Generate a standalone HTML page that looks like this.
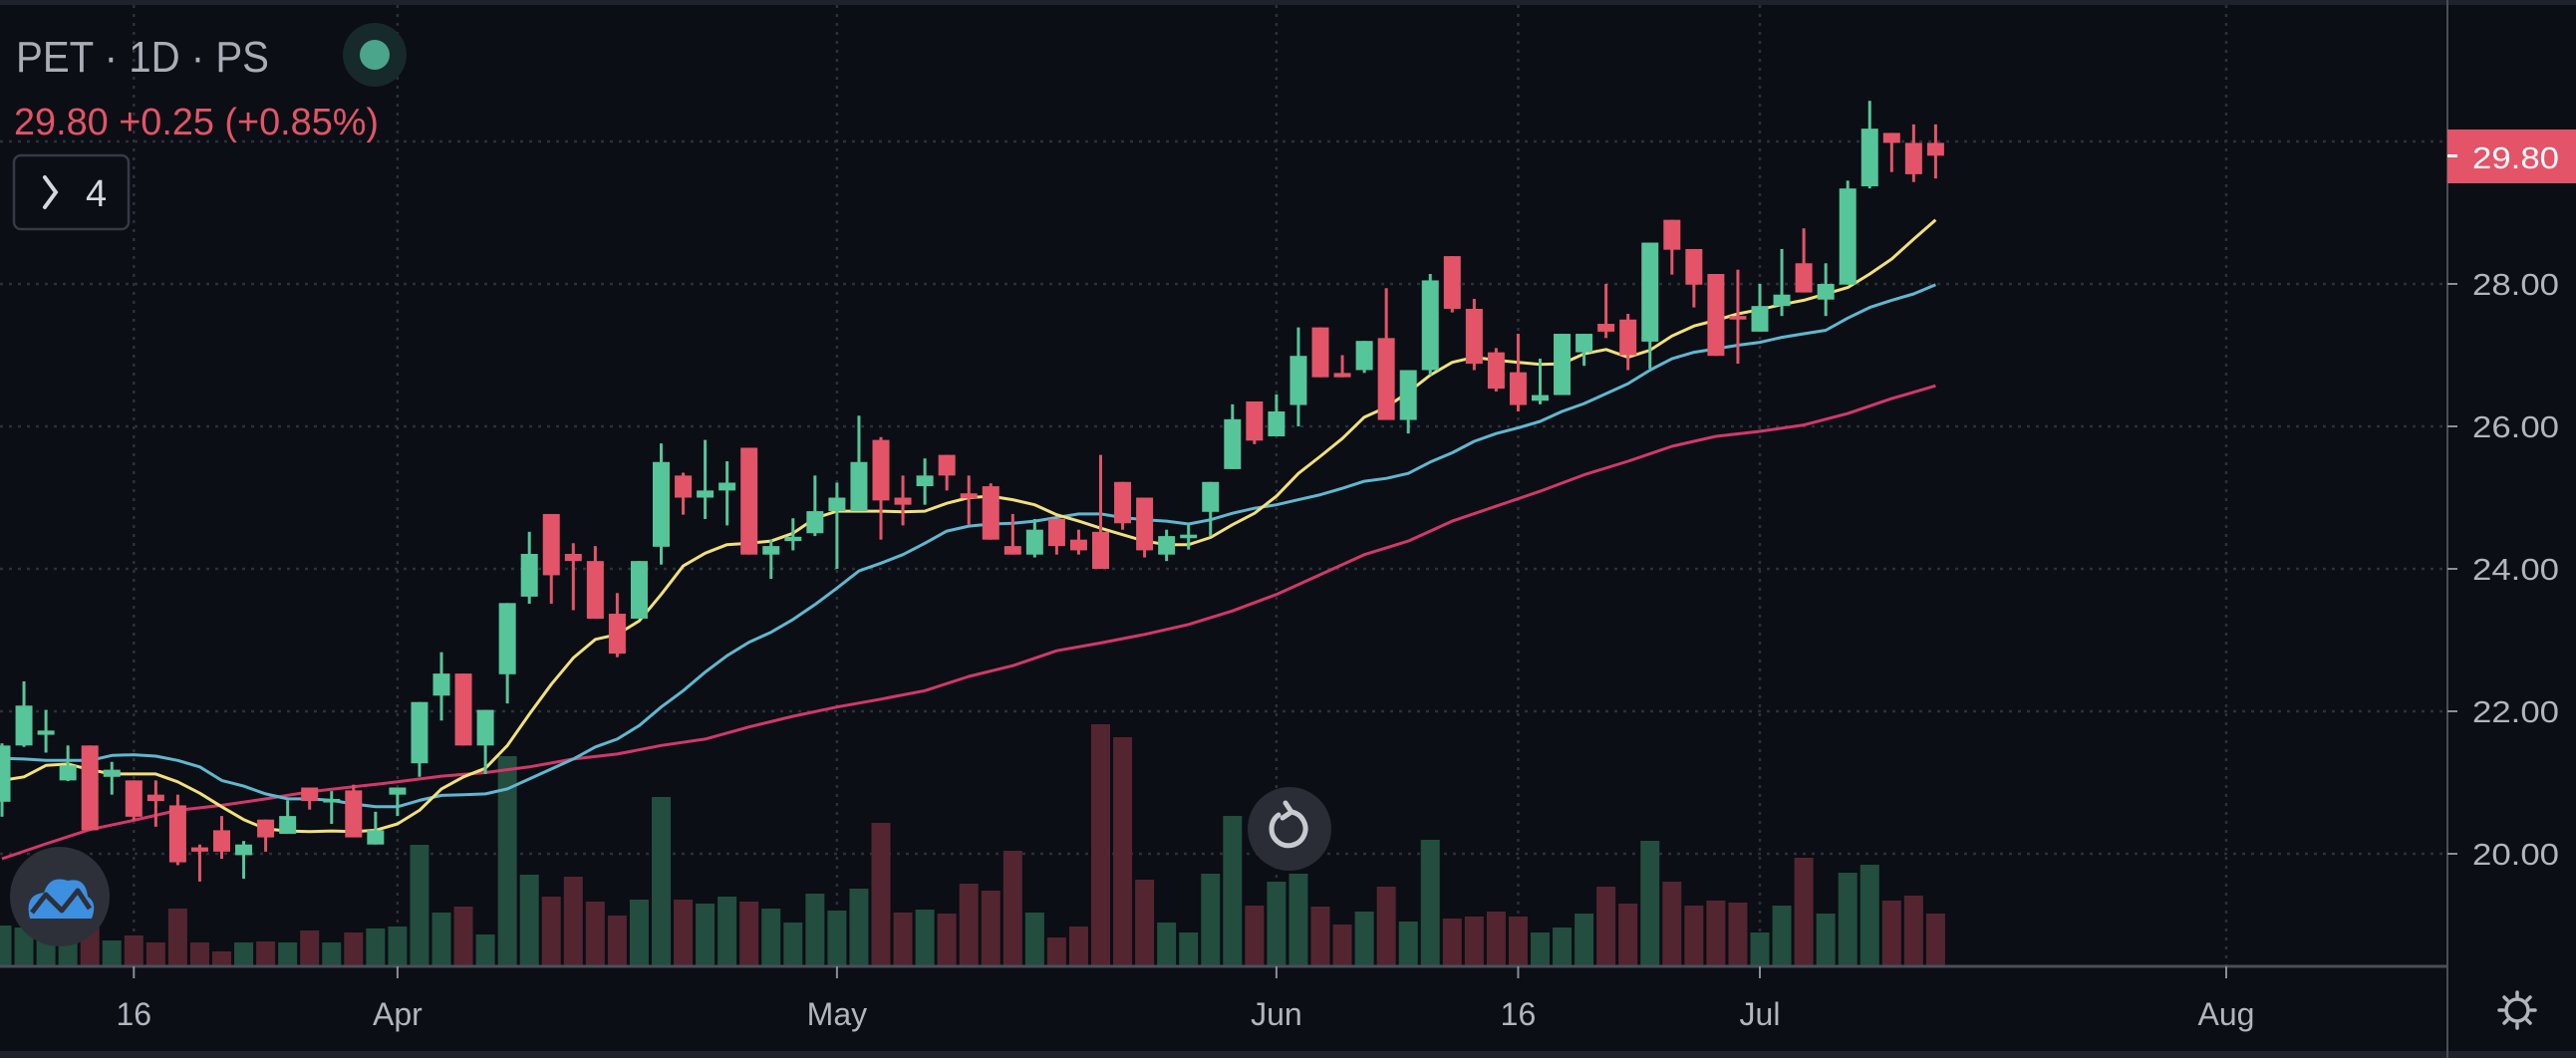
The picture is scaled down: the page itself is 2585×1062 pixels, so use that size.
<!DOCTYPE html>
<html><head><meta charset="utf-8"><style>
html,body{margin:0;padding:0;background:#0b0e14;overflow:hidden}
svg{display:block}
text{font-family:"Liberation Sans",sans-serif}
</style></head><body>
<svg id="chart" width="2585" height="1062" viewBox="0 0 2585 1062" xmlns="http://www.w3.org/2000/svg">
<rect x="0" y="0" width="2585" height="1062" fill="#0b0e14"/>
<rect x="0" y="0" width="2585" height="5" fill="#1e222b"/>
<rect x="0" y="1055" width="2585" height="7" fill="#1e222b"/>
<g id="grid"></g>
<g id="volume"></g>
<g id="mas"></g>
<g id="candles"></g>
<line x1="2456" y1="0" x2="2456" y2="1062" stroke="#4a4e58" stroke-width="2"/>
<line x1="0" y1="970" x2="2456" y2="970" stroke="#4a4e58" stroke-width="3"/>
<g id="yaxis"></g>
<g id="xaxis"></g>
<g>
<rect x="2456" y="130" width="129" height="54" fill="#e35468"/>
<rect x="2456" y="155" width="10" height="3" fill="#ffffff"/>
<text x="2481" y="169" font-size="31" fill="#ffffff" textLength="87" lengthAdjust="spacingAndGlyphs">29.80</text>
</g>
<g>
<text x="16" y="72" font-size="44" fill="#a9adb6" textLength="254" lengthAdjust="spacingAndGlyphs">PET · 1D · PS</text>
</g>
<g>
<circle cx="376" cy="55" r="32" fill="#16292b"/>
<circle cx="376" cy="55" r="15" fill="#4aa58a"/>
</g>
<text x="14" y="135" font-size="38" fill="#e35468" textLength="366" lengthAdjust="spacingAndGlyphs">29.80  +0.25 (+0.85%)</text>
<g>
<rect x="14" y="156" width="115" height="74" rx="7" fill="#0b0e14" stroke="#363a45" stroke-width="2.5"/>
<polyline points="45,178 56,193 45,208" fill="none" stroke="#d6d8de" stroke-width="4" stroke-linecap="round"/>
<text x="86" y="207" font-size="38" fill="#d6d8de">4</text>
</g>
<g>
<circle cx="1294" cy="832" r="42" fill="#2a2d35"/>
<path d="M1283 818 A17 17 0 1 0 1296 815" fill="none" stroke="#c8cad0" stroke-width="5" stroke-linecap="round"/>
<polyline points="1290,806 1296,815 1287,821" fill="none" stroke="#c8cad0" stroke-width="5" stroke-linecap="round" stroke-linejoin="round"/>
</g>
<g>
<circle cx="60" cy="900" r="50" fill="#2d3039"/>
<path d="M30 922 Q24 898 44 896 Q50 878 68 884 Q86 880 88 900 Q98 906 92 922 Z" fill="#3d8fe0"/>
<polyline points="32,916 46,898 62,914 78,894 90,912" fill="none" stroke="#2d3039" stroke-width="5" stroke-linejoin="round"/>
</g>
<g>
<circle cx="2526" cy="1014" r="11" fill="none" stroke="#b2b5be" stroke-width="3.5"/>
<g stroke="#b2b5be" stroke-width="3.5" stroke-linecap="round">
<line x1="2526" y1="996" x2="2526" y2="1000"/><line x1="2526" y1="1028" x2="2526" y2="1032"/>
<line x1="2508" y1="1014" x2="2512" y2="1014"/><line x1="2540" y1="1014" x2="2544" y2="1014"/>
<line x1="2513" y1="1001" x2="2516" y2="1004"/><line x1="2536" y1="1024" x2="2539" y2="1027"/>
<line x1="2513" y1="1027" x2="2516" y2="1024"/><line x1="2536" y1="1004" x2="2539" y2="1001"/>
</g></g>
</svg>
<script>
const opens=[20.73,21.52,21.67,21.03,21.52,21.08,21.03,20.83,20.68,20.09,20.33,19.98,20.48,20.28,20.93,20.72,20.89,20.13,20.83,21.27,22.22,22.53,21.52,22.52,23.61,24.77,24.21,24.11,23.37,23.30,24.31,25.31,25.00,25.10,25.70,24.20,24.39,24.50,24.81,24.81,25.81,25.00,25.16,25.60,25.06,25.16,24.32,24.20,24.70,24.41,24.52,25.22,25.00,24.20,24.43,24.80,25.40,26.35,25.86,26.30,27.39,26.75,26.79,27.24,26.09,26.79,28.39,27.65,27.04,26.76,26.36,26.44,27.04,27.44,27.50,27.19,28.90,28.49,28.14,27.55,27.33,27.69,28.29,27.78,27.99,29.37,30.12,29.98,29.98];
const highs=[21.55,22.42,22.02,21.52,21.52,21.29,21.03,21.03,20.83,20.13,20.53,20.18,20.48,20.75,20.93,20.88,20.97,20.59,20.93,22.13,22.83,22.53,22.02,23.52,24.52,24.77,24.36,24.32,23.66,24.11,25.76,25.35,25.81,25.51,25.70,24.41,24.71,25.31,25.21,26.15,25.85,25.31,25.55,25.60,25.31,25.20,24.77,24.70,24.70,24.55,25.60,25.22,25.00,24.55,24.64,25.22,26.31,26.35,26.45,27.39,27.39,27.00,27.20,27.94,26.79,28.14,28.39,27.79,27.10,27.30,26.95,27.30,27.30,28.00,27.58,28.58,28.90,28.49,28.14,28.20,28.00,28.49,28.78,28.29,29.45,30.57,30.12,30.24,30.24];
const lows=[20.52,21.50,21.42,21.02,20.33,20.83,20.47,20.38,19.84,19.61,19.93,19.65,20.03,20.28,20.62,20.42,20.23,20.13,20.53,21.08,21.87,21.52,21.12,22.11,23.51,23.51,23.42,23.30,22.76,23.30,24.06,24.76,24.70,24.61,24.20,23.86,24.26,24.46,24.00,24.81,24.41,24.61,24.90,25.10,24.62,24.41,24.20,24.16,24.20,24.20,24.00,24.55,24.16,24.11,24.27,24.46,25.40,25.75,25.86,26.00,26.69,26.69,26.75,26.09,25.90,26.72,27.60,26.79,26.49,26.21,26.31,26.44,26.85,27.24,26.79,26.81,28.13,27.67,26.99,26.88,27.33,27.55,27.88,27.55,27.99,29.34,29.57,29.43,29.48];
const closes=[21.52,22.08,21.73,21.24,20.33,21.18,20.52,20.74,19.88,20.03,20.03,20.13,20.23,20.53,20.74,20.77,20.23,20.33,20.93,22.13,22.53,21.52,22.02,23.52,24.21,23.91,24.11,23.30,22.81,24.11,25.50,25.00,25.10,25.21,24.20,24.32,24.45,24.81,25.00,25.50,24.96,24.90,25.31,25.31,24.99,24.41,24.20,24.55,24.32,24.26,24.00,24.64,24.26,24.46,24.48,25.22,26.10,25.80,26.21,26.99,26.69,26.69,27.20,26.09,26.79,28.05,27.65,26.88,26.53,26.30,26.44,27.30,27.30,27.33,27.00,28.58,28.48,27.99,26.99,27.50,27.69,27.85,27.88,28.00,29.34,30.18,29.98,29.54,29.80];
const volumes=[40,38,40,26,40,25,30,23,57,23,14,23,24,23,35,23,33,37,39,121,53,59,31,210,91,69,89,64,50,66,169,66,62,69,64,57,43,72,55,77,143,53,56,52,82,75,115,53,28,39,242,229,86,43,33,92,150,60,84,92,59,41,54,79,44,126,47,49,54,49,33,38,52,79,62,125,84,60,65,63,33,60,108,52,93,101,65,70,52];
const maFast=[21.03,21.08,21.24,21.26,21.18,21.12,21.12,21.12,21.01,20.85,20.66,20.48,20.35,20.32,20.31,20.32,20.31,20.33,20.42,20.61,20.91,21.08,21.2,21.52,21.96,22.38,22.75,23.01,23.08,23.27,23.64,24.04,24.22,24.34,24.36,24.39,24.5,24.71,24.81,24.81,24.81,24.80,24.81,24.92,25.0,25.02,24.97,24.90,24.76,24.67,24.57,24.48,24.39,24.34,24.34,24.44,24.62,24.78,25.02,25.34,25.58,25.83,26.13,26.27,26.48,26.72,26.9,26.97,26.93,26.90,26.87,26.88,27.02,27.08,26.97,27.07,27.27,27.41,27.49,27.58,27.64,27.71,27.77,27.86,27.95,28.14,28.35,28.63,28.90];
const maMid=[21.34,21.33,21.31,21.31,21.31,21.38,21.39,21.37,21.31,21.22,21.03,20.95,20.84,20.77,20.77,20.75,20.70,20.66,20.66,20.75,20.82,20.83,20.84,20.91,21.05,21.19,21.33,21.50,21.61,21.80,22.06,22.29,22.55,22.78,22.97,23.11,23.29,23.50,23.73,23.97,24.08,24.20,24.36,24.53,24.60,24.63,24.64,24.67,24.72,24.77,24.77,24.72,24.69,24.67,24.63,24.69,24.78,24.85,24.90,24.97,25.04,25.13,25.23,25.27,25.34,25.50,25.63,25.79,25.90,25.98,26.07,26.21,26.32,26.46,26.60,26.79,26.95,27.04,27.09,27.14,27.18,27.25,27.30,27.35,27.52,27.67,27.77,27.86,27.99];
const maSlowIdx=[0,2,4,6,8,10,12,14,16,18,20,22,24,26,28,30,32,34,36,38,40,42,44,46,48,50,52,54,56,58,60,62,64,66,68,70,72,74,76,78,80,82,84,86,88];
const maSlow=[19.93,20.14,20.34,20.47,20.61,20.68,20.77,20.87,20.94,21.01,21.09,21.14,21.22,21.33,21.40,21.52,21.61,21.78,21.93,22.06,22.17,22.29,22.49,22.64,22.85,22.96,23.08,23.22,23.41,23.64,23.92,24.20,24.39,24.67,24.88,25.09,25.32,25.51,25.72,25.86,25.93,26.02,26.18,26.39,26.57];
const priceTicks=[30,28,26,24,22,20];
const priceTickLabels=["","28.00","26.00","24.00","22.00","20.00"];
const timeTickIdx=[6,18,38,58,69,80];
const timeTickLabels=["16","Apr","May","Jun","16","Jul"];
const futureTickLabel="Aug";

const NS="http://www.w3.org/2000/svg";
const xOf=i=>2+i*22.05;
const yOf=p=>285-(p-28)*71.5;
const VOL_BASE=969, VOL_PX=1.0;
const hVol=v=>v*VOL_PX;
const UP="#56c59a", DN="#e35468", UPV="#224d3f", DNV="#532530";
function mk(tag,attrs,parent){const e=document.createElementNS(NS,tag);for(const k in attrs)e.setAttribute(k,attrs[k]);parent.appendChild(e);return e;}
const grid=document.getElementById('grid');
priceTicks.forEach((p,k)=>{
  const l=mk('line',{x1:0,x2:2456,y1:yOf(p),y2:yOf(p),stroke:'#2c303a','stroke-width':2.5,'stroke-dasharray':'3 6'},grid);
  
  
});
const gx=timeTickIdx.map(xOf).concat([2234]);
gx.forEach(x=>{
  const l=mk('line',{x1:x,x2:x,y1:5,y2:969,stroke:'#2c303a','stroke-width':2.5,'stroke-dasharray':'3 6'},grid);
  
  
});
const vol=document.getElementById('volume');
volumes.forEach((v,i)=>{
  const up=closes[i]>=opens[i];
  const r=mk('rect',{x:xOf(i)-9.5,y:VOL_BASE-hVol(v),width:19,height:hVol(v),fill:up?UPV:DNV},vol);
  
  
});
const mas=document.getElementById('mas');
function line(xs,ys,color,name){
  const d=xs.map((x,k)=>(k?'L':'M')+x.toFixed(1)+' '+ys[k].toFixed(1)).join(' ');
  const p=mk('path',{d:d,fill:'none',stroke:color,'stroke-width':3,'stroke-linejoin':'round'},mas);
  
  
}
line(maSlowIdx.map(xOf),maSlow.map(yOf),'#d2386a','ma-slow-line');
line(maMid.map((v,i)=>xOf(i)),maMid.map(yOf),'#5fb8d0','ma-mid-line');
line(maFast.map((v,i)=>xOf(i)),maFast.map(yOf),'#f2e07a','ma-fast-line');
const cg=document.getElementById('candles');
opens.forEach((o,i)=>{
  const c=closes[i],up=c>=o,col=up?UP:DN,x=xOf(i);
  const w=mk('rect',{x:x-1.5,y:yOf(highs[i]),width:3,height:Math.max(1,yOf(lows[i])-yOf(highs[i])),fill:col},cg);
  
  
  const top=yOf(Math.max(o,c)),bot=yOf(Math.min(o,c));
  const b=mk('rect',{x:x-8.5,y:top,width:17,height:Math.max(3,bot-top),fill:col},cg);
  
  
});
const ya=document.getElementById('yaxis');
priceTicks.forEach((p,k)=>{
  if(!priceTickLabels[k])return;
  const t=mk('line',{x1:2456,x2:2466,y1:yOf(p),y2:yOf(p),stroke:'#8a8e98','stroke-width':2},ya);
  
  
  const tx=mk('text',{x:2481,y:yOf(p)+11,'font-size':31,fill:'#b2b5be',textLength:87,lengthAdjust:'spacingAndGlyphs'},ya);
  tx.textContent=priceTickLabels[k];
  
  
});
const xa=document.getElementById('xaxis');
function tlabel(x,s){
  const t=mk('line',{x1:x,x2:x,y1:970,y2:982,stroke:'#8a8e98','stroke-width':2},xa);
  
  
  const tx=mk('text',{x:x,y:1029,'font-size':32,fill:'#b2b5be','text-anchor':'middle'},xa);
  tx.textContent=s;
  
  
}
timeTickIdx.forEach((i,k)=>tlabel(xOf(i),timeTickLabels[k]));
tlabel(2234,futureTickLabel);
</script>
</body></html>
